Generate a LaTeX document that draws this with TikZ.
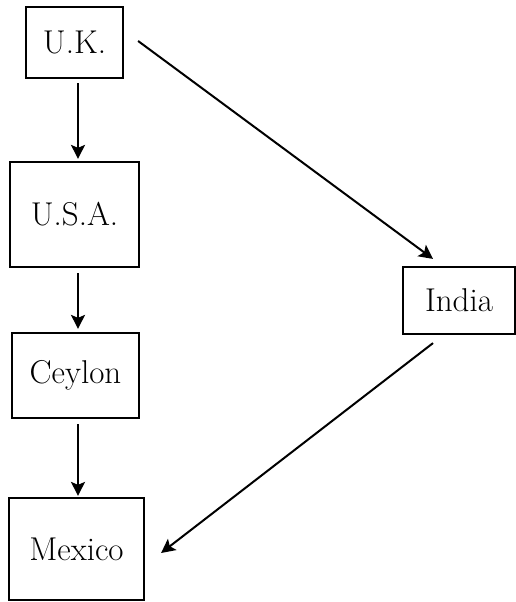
\documentclass[tikz,border=0pt]{standalone}
\usetikzlibrary{arrows.meta}
\begin{document}
\begin{tikzpicture}[x=1pt,y=1pt,
  box/.style={draw,line width=2.2pt,inner sep=0pt,font=\fontsize{33}{40}\selectfont},
  arr/.style={line width=2pt,-{Stealth[length=14pt,width=14pt,inset=3pt]}}]
\useasboundingbox (0,0) rectangle (516,-602);
\node[box,minimum width=97pt,minimum height=71pt] (uk) at (74.5,-42.5) {U.K.};
\node[box,minimum width=129pt,minimum height=105pt] (usa) at (74.5,-214.5) {U.S.A.};
\node[box,minimum width=127pt,minimum height=85pt] (ceylon) at (75.5,-375.5) {Ceylon};
\node[box,minimum width=135pt,minimum height=102pt] (mexico) at (76.5,-549) {Mexico};
\node[box,minimum width=112pt,minimum height=67pt] (india) at (459,-300.5) {India};
\draw[arr] ([xshift=3.5pt,yshift=-4pt]uk.south) -- ([xshift=3.5pt,yshift=2pt]usa.north);
\draw[arr] ([xshift=3.5pt,yshift=-5pt]usa.south) -- ([xshift=2.5pt,yshift=3pt]ceylon.north);
\draw[arr] ([xshift=2.5pt,yshift=-5pt]ceylon.south) -- ([xshift=1.5pt,yshift=1pt]mexico.north);
\draw[arr] ([xshift=14pt,yshift=1.5pt]uk.east) -- ([xshift=-26pt,yshift=7pt]india.north);
\draw[arr] ([xshift=-26pt,yshift=-8pt]india.south) -- ([xshift=16pt,yshift=-4pt]mexico.east);
\end{tikzpicture}
\end{document}
